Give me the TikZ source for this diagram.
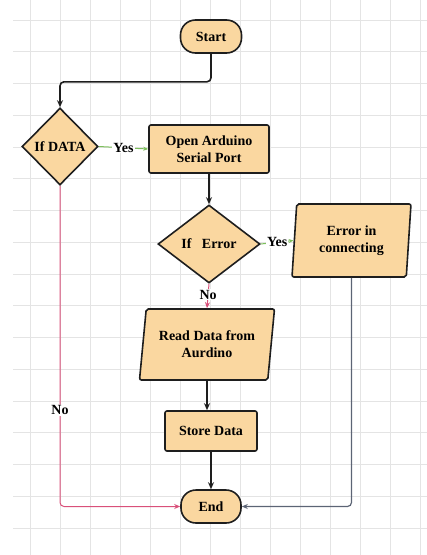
\documentclass[tikz,border=0pt]{standalone}
\usepackage{fontspec}
\setmainfont{Liberation Serif}
\usetikzlibrary{shapes.geometric,arrows.meta}
\definecolor{boxfill}{HTML}{FAD7A0}
\definecolor{boxline}{HTML}{1E1E1E}
\definecolor{gridc}{HTML}{E4E4E4}
\definecolor{yesgreen}{HTML}{7DBF5C}
\definecolor{nored}{HTML}{D9507A}
\definecolor{errgray}{HTML}{5C6475}
\tikzset{
  txt/.style={font=\fontsize{14}{17}\selectfont\bfseries, align=center},
  base/.style={draw=boxline, line width=1.6pt, fill=boxfill, txt, inner sep=0pt},
  term/.style={base, rounded corners=15pt, minimum width=61pt, minimum height=33pt},
  proc/.style={base, rounded corners=2pt},
  dec/.style={base, diamond},
  io/.style={base, trapezium, trapezium stretches body, rounded corners=2pt},
  flow/.style={draw=boxline, line width=1.6pt, -{Stealth[length=7pt,width=6pt]}},
  yesline/.style={draw=yesgreen, line width=1pt, -{Stealth[length=5pt,width=4pt]}},
  noline/.style={draw=nored, line width=1pt, -{Stealth[length=6pt,width=5pt]}},
  errline/.style={draw=errgray, line width=1.2pt, -{Stealth[length=6pt,width=5pt]}},
  lbl/.style={txt, fill=white, inner sep=1pt},
}
\begin{document}
\begin{tikzpicture}[x=1pt,y=-1pt]
\useasboundingbox (0,0) rectangle (427,555);
% grid
\foreach \k in {1,...,14} \draw[gridc, line width=0.8pt] (30*\k,0) -- (30*\k,555);
\foreach \k in {0,...,16} \draw[gridc, line width=0.8pt] (13,20+31.75*\k) -- (427,20+31.75*\k);

% nodes
\node[term] (start) at (211,36.5) {Start};
\node[dec, minimum width=76pt, minimum height=77pt, label={[txt]center:If DATA}] (ifdata) at (60,146.5) {};
\node[proc, minimum width=120pt, minimum height=48pt] (open) at (209,149) {Open Arduino\\Serial Port};
\node[dec, minimum width=102pt, minimum height=78pt, label={[txt]center:If\ \ \ Error}] (iferr) at (209,244) {};
\node[io, trapezium left angle=81, trapezium right angle=99, minimum width=119pt, minimum height=73pt] (err) at (351.5,240.5) {Error in\\connecting};
\node[io, trapezium left angle=76, trapezium right angle=104, minimum width=135pt, minimum height=71pt] (read) at (207,344.5) {Read Data from\\Aurdino};
\node[proc, minimum width=92pt, minimum height=40pt] (store) at (211,431) {Store Data};
\node[term, minimum width=60pt] (end) at (211,506.5) {End};

% connectors
\draw[flow, rounded corners=4pt] (start.south) -- ++(0,28) -| (ifdata.north);
\draw[yesline] (ifdata.east) -- node[lbl, pos=0.5]{Yes} (open.west);
\draw[flow] (open.south) -- (iferr.north);
\draw[yesline] (iferr.east) -- node[lbl, pos=0.5]{Yes} (err.west);
\draw[noline] (iferr.south) -- node[lbl, pos=0.45]{No} (read.north);
\draw[flow] (read.south) -- (read.south |- store.north);
\draw[flow] (store.south) -- (end.north);
\draw[noline, rounded corners=4pt] (ifdata.south) -- node[lbl, pos=0.7]{No} (ifdata.south |- end.west) -- (end.west);
\draw[errline, rounded corners=4pt] (err.south) |- (end.east);
\end{tikzpicture}
\end{document}
